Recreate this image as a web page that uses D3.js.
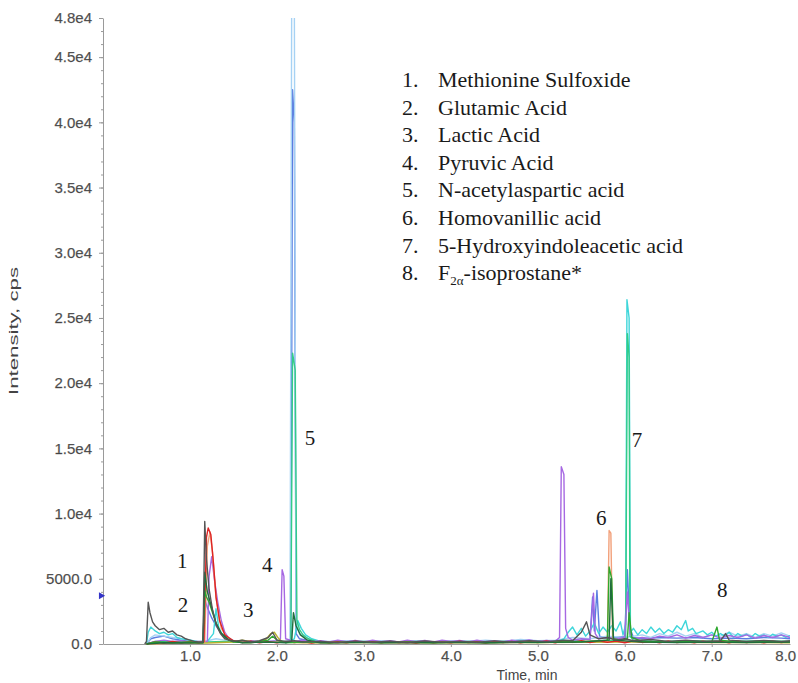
<!DOCTYPE html>
<html lang="en">
<head>
  <meta charset="UTF-8"/>
  <title>Chromatogram</title>
  <script src="https://d3js.org/d3.v7.min.js"></script>
  <style>
    body { margin: 0; background: #fff; }
    svg { display: block; }
    .axis text { font-family: 'Liberation Sans', Arial, sans-serif; font-size: 15px; fill: #444; stroke: #777; stroke-width: 0.25; }
    .axis path, .axis line { stroke: #9a9a9a; }
    .trace { fill: none; stroke-width: 1.4; stroke-linejoin: round; }
    text.axis-title { font-family: 'Liberation Sans', Arial, sans-serif; font-size: 13px; fill: #444; }
    text.legend, text.peak { font-family: 'Liberation Serif', 'Times New Roman', serif; fill: #1a1a1a; }
    text.legend { font-size: 22px; }
    text.peak { font-size: 21px; }
  </style>
</head>
<body>
<svg width="798" height="683"></svg>
<script>
const timeTicks = [1, 2, 3, 4, 5, 6, 7, 8];
const timeTickLabels = ['1.0', '2.0', '3.0', '4.0', '5.0', '6.0', '7.0', '8.0'];
const intensityTicks = [0, 5000, 10000, 15000, 20000, 25000, 30000, 35000, 40000, 45000, 48000];
const intensityTickLabels = ['0.0', '5000.0', '1.0e4', '1.5e4', '2.0e4', '2.5e4', '3.0e4', '3.5e4', '4.0e4', '4.5e4', '4.8e4'];

const compounds = [
  'Methionine Sulfoxide', 'Glutamic Acid', 'Lactic Acid', 'Pyruvic Acid',
  'N-acetylaspartic acid', 'Homovanillic acid', '5-Hydroxyindoleacetic acid', 'F2α-isoprostane*'
];
const peakNumbers = ['1', '2', '3', '4', '5', '6', '7', '8'];
const peakLabelTime = [0.91, 0.92, 1.67, 1.89, 2.38, 5.73, 6.14, 7.12];
const peakLabelIntensity = [5800, 2450, 2070, 5520, 15260, 9120, 15100, 3600];

// traces: [time (min), intensity (cps)]
const lightBlue = [[0.5,0],[0.55,500],[0.6,700],[0.7,600],[0.8,500],[0.9,400],[1.0,300],[1.1,200],[1.2,250],[1.3,400],[1.4,300],[1.5,200],[1.7,150],[1.9,200],[2.1,200],[2.15,300],[2.17,50000],[2.2,50000],[2.22,1500],[2.26,800],[2.33,500],[2.4,300],[2.6,200],[2.8,250],[3.0,150],[3.2,250],[3.4,150],[3.6,250],[3.8,150],[4.0,250],[4.2,200],[4.4,300],[4.6,200],[4.8,350],[5.0,250],[5.2,300],[5.4,500],[5.6,400],[5.8,600],[6.0,500],[6.2,700],[6.3,500],[6.4,800],[6.5,600],[6.6,900],[6.7,600],[6.8,800],[6.9,500],[7.0,700],[7.1,600],[7.2,900],[7.3,600],[7.4,800],[7.5,500],[7.6,800],[7.7,600],[7.8,850],[7.9,600]];
const blue = [[0.5,0],[0.55,400],[0.6,500],[0.7,600],[0.8,400],[0.9,300],[1.0,200],[1.1,150],[1.15,200],[1.17,3400],[1.2,2800],[1.25,2000],[1.3,1400],[1.35,900],[1.42,500],[1.5,250],[1.7,150],[1.9,200],[2.1,150],[2.16,300],[2.18,42500],[2.2,40000],[2.22,800],[2.26,400],[2.4,200],[2.7,150],[3.0,200],[3.3,150],[3.6,200],[3.9,150],[4.2,200],[4.5,150],[4.8,250],[5.1,200],[5.3,250],[5.5,300],[5.6,400],[5.63,3600],[5.65,1000],[5.68,4100],[5.71,600],[5.8,400],[5.9,500],[6.0,600],[6.03,5700],[6.06,1200],[6.1,500],[6.2,400],[6.4,500],[6.6,450],[6.8,500],[7.0,400],[7.2,450],[7.4,400],[7.6,500],[7.8,450],[7.9,400]];
const cyan = [[0.5,0],[0.52,900],[0.55,1300],[0.6,1000],[0.65,800],[0.7,900],[0.75,700],[0.8,800],[0.85,500],[0.9,400],[1.0,300],[1.1,150],[1.2,200],[1.27,800],[1.3,2700],[1.33,1300],[1.38,600],[1.45,300],[1.55,150],[1.7,200],[1.85,150],[2.0,200],[2.15,200],[2.2,400],[2.24,1800],[2.28,1200],[2.33,700],[2.4,400],[2.5,200],[2.7,150],[2.9,200],[3.1,120],[3.3,200],[3.5,130],[3.7,200],[3.9,120],[4.1,200],[4.3,150],[4.5,220],[4.7,150],[4.9,250],[5.1,180],[5.25,250],[5.3,400],[5.35,900],[5.4,1300],[5.45,700],[5.5,1200],[5.55,600],[5.6,1000],[5.65,1600],[5.7,800],[5.75,1300],[5.8,900],[5.85,1400],[5.9,1000],[5.95,1700],[5.98,700],[6.01,1500],[6.025,26400],[6.05,25000],[6.065,900],[6.1,1200],[6.15,700],[6.2,1100],[6.25,800],[6.3,1300],[6.35,900],[6.4,1200],[6.45,800],[6.5,1100],[6.55,900],[6.6,1400],[6.65,1100],[6.7,1800],[6.73,1000],[6.78,1200],[6.82,800],[6.9,1000],[6.95,700],[7.0,900],[7.05,600],[7.1,800],[7.15,600],[7.2,900],[7.25,500],[7.3,800],[7.35,600],[7.4,750],[7.45,500],[7.5,800],[7.55,600],[7.6,700],[7.65,500],[7.7,750],[7.75,600],[7.8,700],[7.85,500],[7.9,650]];
const seaGreen = [[0.5,0],[0.6,200],[0.8,150],[1.0,200],[1.2,150],[1.4,200],[1.6,150],[1.8,200],[2.0,150],[2.16,200],[2.18,22300],[2.21,21000],[2.23,1800],[2.26,1100],[2.3,700],[2.36,400],[2.45,200],[2.7,150],[3.0,200],[3.3,150],[3.6,200],[3.9,150],[4.2,200],[4.5,150],[4.8,250],[5.1,150],[5.4,200],[5.7,250],[5.95,300],[6.01,400],[6.03,23800],[6.05,22000],[6.06,600],[6.1,300],[6.4,200],[6.8,250],[7.2,200],[7.6,250],[7.9,200]];
const purple = [[0.5,0],[0.6,200],[0.7,300],[0.8,200],[0.9,250],[1.0,150],[1.1,200],[1.2,200],[1.22,5200],[1.25,6700],[1.28,5000],[1.32,3200],[1.36,1800],[1.4,900],[1.45,400],[1.5,200],[1.6,150],[1.7,250],[1.8,150],[1.9,200],[2.0,250],[2.04,300],[2.06,5700],[2.08,5200],[2.1,400],[2.2,200],[2.3,300],[2.4,150],[2.5,250],[2.6,150],[2.7,300],[2.8,180],[2.9,280],[3.0,150],[3.1,300],[3.2,180],[3.3,260],[3.4,150],[3.5,300],[3.6,170],[3.7,280],[3.8,150],[3.9,300],[4.0,200],[4.1,280],[4.2,150],[4.3,300],[4.4,180],[4.5,260],[4.6,150],[4.7,300],[4.8,200],[4.9,320],[5.0,200],[5.1,280],[5.2,200],[5.25,500],[5.27,13600],[5.3,13000],[5.32,1200],[5.35,500],[5.4,300],[5.5,400],[5.6,350],[5.64,3900],[5.66,800],[5.7,400],[5.8,500],[5.9,400],[6.0,500],[6.03,4000],[6.06,800],[6.1,400],[6.2,500],[6.3,400],[6.4,600],[6.5,500],[6.6,700],[6.7,450],[6.8,650],[6.9,500],[7.0,700],[7.1,450],[7.2,650],[7.3,500],[7.4,700],[7.5,450],[7.6,650],[7.7,500],[7.8,700],[7.9,500]];
const olive = [[0.5,0],[0.8,100],[1.2,80],[1.5,150],[1.6,300],[1.7,200],[1.8,150],[1.88,400],[1.93,800],[1.97,900],[2.01,500],[2.06,150],[2.3,100],[3.0,120],[4.0,100],[5.0,120],[6.0,150],[7.0,120],[7.9,100]];
const orange = [[0.5,0],[1.0,100],[1.17,150],[1.2,7500],[1.23,8600],[1.26,7000],[1.3,3500],[1.36,1200],[1.45,300],[1.6,120],[2.0,150],[2.5,120],[3.0,150],[3.5,100],[4.0,150],[4.5,120],[5.0,150],[5.5,200],[5.8,250],[5.82,8700],[5.84,8500],[5.86,400],[6.0,200],[6.5,150],[7.0,200],[7.5,150],[7.9,150]];
const red = [[0.5,0],[0.6,150],[0.7,80],[0.8,200],[0.9,100],[1.0,180],[1.1,90],[1.16,150],[1.19,8200],[1.21,8900],[1.24,8400],[1.27,6200],[1.3,3600],[1.34,1800],[1.4,700],[1.5,250],[1.6,120],[1.7,220],[1.8,100],[1.9,180],[2.0,90],[2.1,200],[2.2,120],[2.3,180],[2.4,80],[2.5,200],[2.6,100],[2.7,170],[2.8,90],[2.9,210],[3.0,110],[3.1,180],[3.2,90],[3.3,200],[3.4,120],[3.5,170],[3.6,80],[3.7,190],[3.8,100],[3.9,160],[4.0,90],[4.1,210],[4.2,110],[4.3,170],[4.4,80],[4.5,190],[4.6,120],[4.7,200],[4.8,90],[4.9,180],[5.0,120],[5.1,230],[5.2,100],[5.3,250],[5.4,120],[5.5,260],[5.6,110],[5.7,240],[5.8,130],[5.9,220],[6.0,100],[6.1,250],[6.2,120],[6.3,200],[6.4,90],[6.5,230],[6.6,110],[6.7,190],[6.8,100],[6.9,220],[7.0,120],[7.1,200],[7.2,90],[7.3,230],[7.4,110],[7.5,190],[7.6,100],[7.7,210],[7.8,120],[7.9,180]];
const green = [[0.5,0],[0.6,150],[0.8,100],[1.0,150],[1.15,100],[1.17,4100],[1.19,3600],[1.22,3200],[1.26,2400],[1.3,1600],[1.35,900],[1.42,400],[1.5,150],[1.7,100],[1.9,300],[1.95,600],[2.0,300],[2.1,100],[2.3,150],[2.6,100],[2.9,150],[3.2,100],[3.5,150],[3.8,100],[4.1,150],[4.4,100],[4.7,150],[5.0,120],[5.3,150],[5.6,200],[5.8,300],[5.82,5900],[5.85,5000],[5.87,400],[5.95,300],[6.03,400],[6.05,2400],[6.08,500],[6.2,200],[6.5,150],[6.8,200],[7.0,150],[7.06,1300],[7.09,300],[7.3,150],[7.6,200],[7.9,150]];
const darkGreen = [[0.5,0],[0.7,100],[1.0,80],[1.15,100],[1.17,5500],[1.2,4000],[1.25,2800],[1.3,1600],[1.36,800],[1.45,300],[1.6,100],[1.9,150],[2.1,100],[2.17,200],[2.19,2400],[2.22,1400],[2.27,700],[2.35,300],[2.5,100],[3.0,120],[3.5,100],[4.0,120],[4.5,100],[5.0,130],[5.5,150],[5.82,300],[5.84,5000],[5.87,300],[6.2,150],[6.6,120],[7.0,150],[7.4,120],[7.9,150]];
const black = [[0.48,0],[0.5,200],[0.52,3200],[0.54,2400],[0.57,1700],[0.6,1400],[0.65,1100],[0.7,1200],[0.75,900],[0.8,1000],[0.85,700],[0.9,600],[0.95,400],[1.0,300],[1.05,200],[1.1,150],[1.15,150],[1.17,9400],[1.19,6500],[1.22,4200],[1.26,2600],[1.3,1500],[1.35,800],[1.4,400],[1.5,200],[1.6,300],[1.7,150],[1.8,250],[1.9,500],[1.95,900],[2.0,300],[2.1,200],[2.2,250],[2.3,150],[2.5,200],[2.7,120],[2.9,220],[3.1,130],[3.3,210],[3.5,120],[3.7,230],[3.9,140],[4.1,200],[4.3,130],[4.5,240],[4.7,150],[4.9,260],[5.1,170],[5.3,300],[5.4,250],[5.5,900],[5.56,1700],[5.6,700],[5.7,400],[5.8,500],[5.9,300],[6.0,400],[6.1,250],[6.3,350],[6.5,200],[6.7,300],[6.9,200],[7.1,250],[7.16,800],[7.2,300],[7.4,200],[7.6,280],[7.8,200],[7.9,250]];

const traces = [
  { data: blue, color: '#5b7ee0' },
  { data: lightBlue, color: '#a6d2f4' },
  { data: cyan, color: '#3fd6da' },
  { data: seaGreen, color: '#33cc88' },
  { data: purple, color: '#a668e2' },
  { data: olive, color: '#b8b030' },
  { data: orange, color: '#f2a07a' },
  { data: red, color: '#dd2424' },
  { data: green, color: '#2ea82e' },
  { data: darkGreen, color: '#1f6e3c' },
  { data: black, color: '#555555' }
];

const svg = d3.select('svg');

const x = d3.scaleLinear().domain([0, 7.9]).range([103, 790]);
const y = d3.scaleLinear().domain([0, 48000]).range([644, 18]);

// clip so the tallest peak stops at the top of the axis
svg.append('clipPath').attr('id', 'plot')
  .append('rect')
  .attr('x', x(0)).attr('y', y(48000))
  .attr('width', x(7.9) - x(0)).attr('height', y(0) - y(48000) + 1);

// minor ticks on the intensity axis
svg.append('g')
  .attr('class', 'axis')
  .attr('transform', `translate(${x(0)},0)`)
  .call(d3.axisLeft(y).tickValues(d3.range(0, 48001, 1000)).tickSize(2).tickFormat(''))
  .select('.domain').remove();

svg.append('g')
  .attr('class', 'axis')
  .attr('transform', `translate(${x(0)},0)`)
  .call(d3.axisLeft(y)
    .tickValues(intensityTicks)
    .tickSize(4)
    .tickSizeOuter(0)
    .tickPadding(7)
    .tickFormat((d, i) => intensityTickLabels[i]));

const xAxis = svg.append('g')
  .attr('class', 'axis')
  .attr('transform', `translate(0,${y(0)})`)
  .call(d3.axisBottom(x)
    .tickValues(timeTicks)
    .tickSize(3)
    .tickSizeOuter(0)
    .tickPadding(3)
    .tickFormat((d, i) => timeTickLabels[i]));

// last label sits against the right edge
xAxis.selectAll('.tick text')
  .filter((d) => d === 8)
  .attr('text-anchor', 'end')
  .attr('dx', -3);

const line = d3.line()
  .x((d) => x(d[0]))
  .y((d) => y(d[1]));

svg.append('g')
  .attr('clip-path', 'url(#plot)')
  .selectAll('path')
  .data(traces)
  .enter()
  .append('path')
  .attr('class', 'trace')
  .attr('stroke', (d) => d.color)
  .attr('d', (d) => line(d.data));

// small threshold marker on the axis
svg.append('path')
  .attr('d', d3.symbol(d3.symbolTriangle, 22)())
  .attr('transform', `translate(${x(0) - 2},${y(3700)}) rotate(90)`)
  .attr('fill', '#3434c8');

svg.append('text')
  .attr('class', 'axis-title')
  .attr('transform', `translate(18,${(y(0) + y(48000)) / 2}) rotate(-90)`)
  .attr('text-anchor', 'middle')
  .attr('textLength', 128)
  .attr('lengthAdjust', 'spacingAndGlyphs')
  .text('Intensity, cps');

svg.append('text')
  .attr('class', 'axis-title')
  .attr('x', 527)
  .attr('y', 680)
  .attr('text-anchor', 'middle')
  .style('font-size', '14px')
  .text('Time, min');

// peak numbers
svg.selectAll('text.peak')
  .data(peakNumbers)
  .enter()
  .append('text')
  .attr('class', 'peak')
  .attr('x', (d, i) => x(peakLabelTime[i]))
  .attr('y', (d, i) => y(peakLabelIntensity[i]))
  .attr('text-anchor', 'middle')
  .text((d) => d);

// compound list
const legend = svg.append('g');
compounds.forEach((name, i) => {
  const rowY = 87 + i * 27.6;
  legend.append('text')
    .attr('class', 'legend')
    .attr('x', 402)
    .attr('y', rowY)
    .text(`${i + 1}.`);
  const t = legend.append('text')
    .attr('class', 'legend')
    .attr('x', 438)
    .attr('y', rowY);
  if (name.startsWith('F2α')) {
    t.append('tspan').text('F');
    t.append('tspan').attr('dy', 5).style('font-size', '13px').text('2α');
    t.append('tspan').attr('dy', -5).text(name.slice(3));
  } else {
    t.text(name);
  }
});
</script>
</body>
</html>
